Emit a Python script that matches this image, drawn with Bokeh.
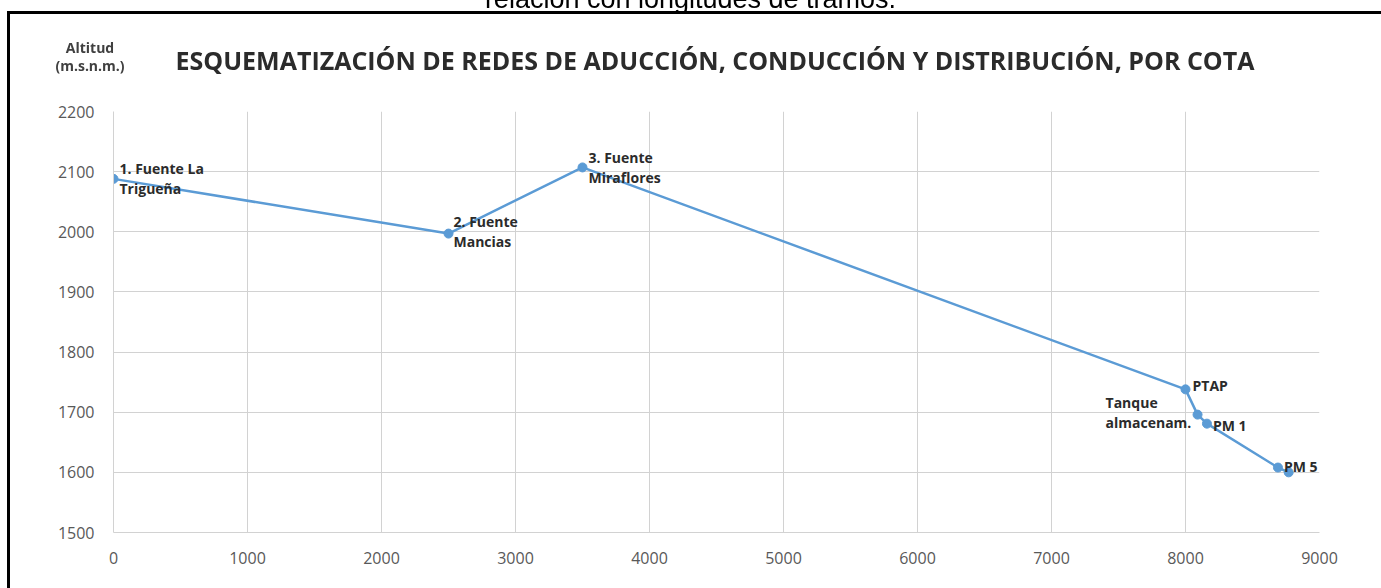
from bokeh.plotting import figure
from bokeh.models import Range1d, FixedTicker, Div, ColumnDataSource
from bokeh.layouts import column
from bokeh.core.properties import value
from bokeh.embed import file_html
from bokeh.resources import INLINE

# ---------------- data ----------------
distancia = [0, 2500, 3500, 8000, 8090, 8160, 8690, 8770]
altitud = [2088, 1997, 2107, 1738, 1696, 1681, 1608, 1600]
nombres = ["1. Fuente La\nTrigueña", "2. Fuente\nMancias", "3. Fuente\nMiraflores",
           "PTAP", "Tanque\nalmacenam.", "PM 1", "PM 5", ""]
x_ticks = [0, 1000, 2000, 3000, 4000, 5000, 6000, 7000, 8000, 9000]
y_ticks = [1500, 1600, 1700, 1800, 1900, 2000, 2100, 2200]
titulo = "ESQUEMATIZACIÓN DE REDES DE ADUCCIÓN, CONDUCCIÓN Y DISTRIBUCIÓN, POR COTA"
eje_y = ["Altitud", "(m.s.n.m.)"]
leyenda_sup = "relación con longitudes de tramos."

# label offsets (pixels)
dx = [6, 5, 6, 7, -92, 6, 6, 0]
dy = [0, -2, 0, -4, -2, 2, -1, 0]

# ---------------- geometry ----------------
X0, X1 = 0, 9000
Y0, Y1 = 1500, 2200
FL, FR, FT, FB = 113, 1319, 111, 532   # frame position on page
W, H = 1370, 580

p = figure(width=W, height=H, x_range=Range1d(X0, X1), y_range=Range1d(Y0, Y1),
           output_backend="svg", toolbar_location=None,
           min_border_left=FL, min_border_right=W - FR,
           min_border_top=FT, min_border_bottom=H - FB)
p.outline_line_color = None
p.background_fill_color = "white"
p.border_fill_color = "white"

grid_col = "#d2d2d2"
p.xgrid.ticker = FixedTicker(ticks=x_ticks)
p.ygrid.ticker = FixedTicker(ticks=y_ticks)
p.xgrid.grid_line_color = grid_col
p.ygrid.grid_line_color = grid_col
p.xaxis.ticker = FixedTicker(ticks=x_ticks)
p.yaxis.ticker = FixedTicker(ticks=y_ticks)
for ax in (p.xaxis[0], p.yaxis[0]):
    ax.axis_line_color = grid_col
    ax.major_tick_line_color = None
    ax.minor_tick_line_color = None
    ax.major_tick_out = 0
    ax.major_tick_in = 0
    ax.major_label_text_font = "Open Sans"
    ax.major_label_text_font_size = "16px"
    ax.major_label_text_color = "#595959"
p.xaxis.major_label_standoff = 19
p.yaxis.major_label_standoff = 19

src = ColumnDataSource(dict(x=distancia, y=altitud, name=nombres, dx=dx, dy=dy))
p.line("x", "y", source=src, line_color="#5b9bd5", line_width=2.5)
p.scatter("x", "y", source=src, size=9, fill_color="#5b9bd5", line_color="#5b9bd5")
p.text("x", "y", text="name", source=src, x_offset="dx", y_offset="dy",
       text_font=value("Open Sans"), text_font_style="bold", text_font_size="14px",
       text_color="#2b2b2b", text_align="left", text_baseline="middle",
       text_line_height=1.05)


def fixed_div(text, left, top, width, extra):
    st = {"position": "fixed", "left": f"{left}px", "top": f"{top}px",
          "width": f"{width}px", "margin": "0px", "padding": "0px",
          "white-space": "nowrap"}
    st.update(extra)
    return Div(text=text, styles=st)


cap = fixed_div(leyenda_sup, 0, -14, 1388,
                {"text-align": "center", "font-family": "'Liberation Sans', Arial",
                 "font-size": "27px", "line-height": "27px", "color": "black"})
tit = fixed_div(titulo, 115, 48, 1200,
                {"text-align": "center", "font-family": "'Open Sans'",
                 "font-weight": "bold", "font-size": "25px", "line-height": "25px",
                 "color": "#2b2b2b"})
alt = fixed_div("<br>".join(eje_y), 40, 39, 100,
                {"text-align": "center", "font-family": "'Open Sans'",
                 "font-weight": "bold", "font-size": "14px", "line-height": "18px",
                 "color": "#404040"})
top_bar = fixed_div("", 7, 11, 1374,
                    {"height": "3px", "background-color": "black"})
left_bar = fixed_div("", 7, 11, 3,
                     {"height": "577px", "background-color": "black"})

layout = column(p, cap, tit, alt, top_bar, left_bar, spacing=0)
open("out.html", "w").write(file_html(layout, INLINE))
